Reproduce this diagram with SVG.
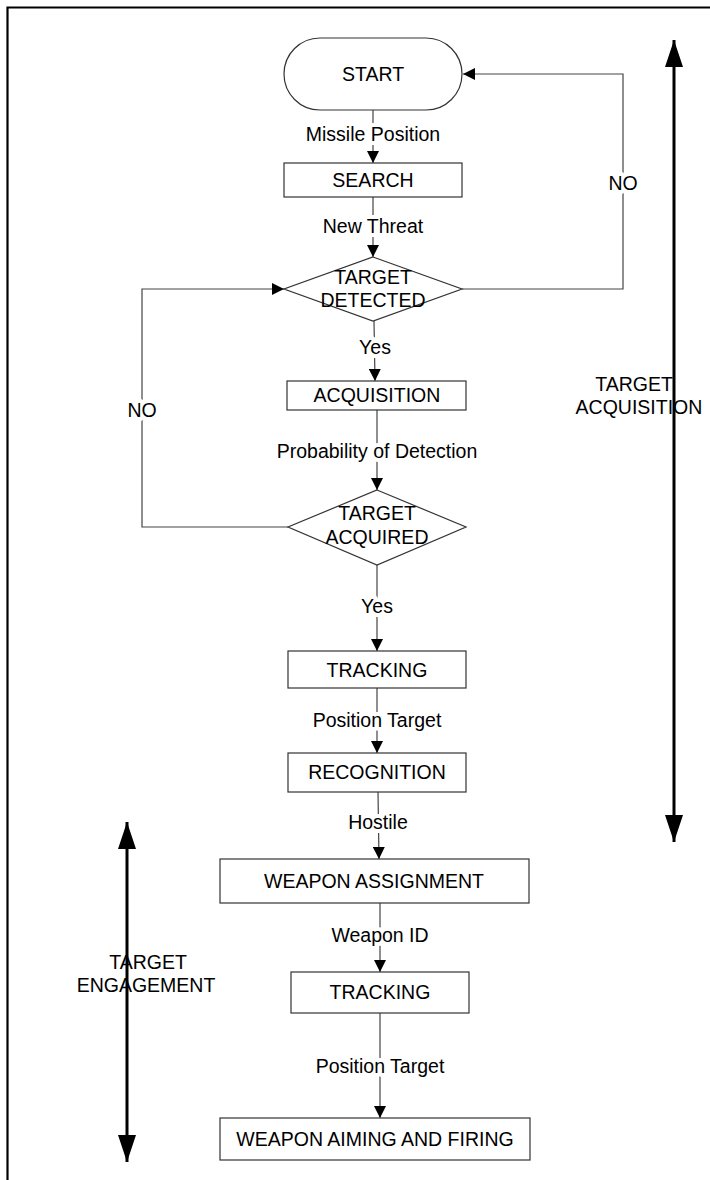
<svg xmlns="http://www.w3.org/2000/svg" width="710" height="1180" viewBox="0 0 710 1180">
  <style>
    text { font-family: "Liberation Sans", Arial, sans-serif; font-size: 19.5px; fill: #000; text-anchor: middle; dominant-baseline: central; }
    .shape { fill: #fff; stroke: #333; stroke-width: 1.2; }
    .conn { fill: none; stroke: #444; stroke-width: 1.2; }
    .lbl { stroke: #fff; stroke-width: 8; paint-order: stroke; stroke-linejoin: round; }
    .span { fill: none; stroke: #000; stroke-width: 3; }
    .frame { fill: none; stroke: #000; stroke-width: 2.2; }
  </style>
  <defs>
    <marker id="arr" viewBox="0 0 12 12" refX="12" refY="6" markerWidth="12" markerHeight="12" markerUnits="userSpaceOnUse" orient="auto">
      <path d="M0,0 L12,6 L0,12 Z" fill="#000"/>
    </marker>
    <marker id="big" viewBox="0 0 27 18" refX="27" refY="9" markerWidth="27" markerHeight="18" markerUnits="userSpaceOnUse" orient="auto-start-reverse">
      <path d="M0,0 L27,9 L0,18 Z" fill="#000"/>
    </marker>
  </defs>

  <rect width="710" height="1180" fill="#fff"/>
  <!-- page frame: top and left edges only -->
  <path class="frame" d="M7.5,1180 V7.5 H710"/>

  <!-- connectors -->
  <g id="connectors">
    <line class="conn" x1="373" y1="110" x2="373" y2="163" marker-end="url(#arr)"/>
    <line class="conn" x1="373" y1="197" x2="373" y2="257" marker-end="url(#arr)"/>
    <path class="conn" d="M462,289 H623 V74 H463" marker-end="url(#arr)"/>
    <line class="conn" x1="374" y1="321" x2="375" y2="381" marker-end="url(#arr)"/>
    <path class="conn" d="M288,527 H142 V289 H284" marker-end="url(#arr)"/>
    <line class="conn" x1="377" y1="410" x2="377" y2="490" marker-end="url(#arr)"/>
    <line class="conn" x1="377" y1="565" x2="377" y2="651" marker-end="url(#arr)"/>
    <line class="conn" x1="377" y1="688" x2="377" y2="753" marker-end="url(#arr)"/>
    <line class="conn" x1="378" y1="792" x2="379" y2="859" marker-end="url(#arr)"/>
    <line class="conn" x1="380" y1="903" x2="380" y2="972" marker-end="url(#arr)"/>
    <line class="conn" x1="380" y1="1013" x2="380" y2="1118" marker-end="url(#arr)"/>

    <text class="lbl" x="373" y="134">Missile Position</text>
    <text class="lbl" x="373" y="226">New Threat</text>
    <text class="lbl" x="623" y="183">NO</text>
    <text class="lbl" x="375" y="347">Yes</text>
    <text class="lbl" x="142" y="410">NO</text>
    <text class="lbl" x="377" y="451">Probability of Detection</text>
    <text class="lbl" x="377" y="606">Yes</text>
    <text class="lbl" x="377" y="720">Position Target</text>
    <text class="lbl" x="378" y="822">Hostile</text>
    <text class="lbl" x="380" y="935">Weapon ID</text>
    <text class="lbl" x="380" y="1066">Position Target</text>
  </g>

  <!-- nodes -->
  <g id="start">
    <rect class="shape" x="284" y="38" width="178" height="72" rx="36" ry="36"/>
    <text x="373" y="74">START</text>
  </g>
  <g id="search">
    <rect class="shape" x="284" y="163" width="178" height="34"/>
    <text x="373" y="180">SEARCH</text>
  </g>
  <g id="target-detected">
    <polygon class="shape" points="373,257 462,289 373,321 284,289"/>
    <text x="373" y="277">TARGET</text>
    <text x="373" y="300">DETECTED</text>
  </g>
  <g id="acquisition">
    <rect class="shape" x="287" y="381" width="179" height="29"/>
    <text x="377" y="395">ACQUISITION</text>
  </g>
  <g id="target-acquired">
    <polygon class="shape" points="377,490 466,527 377,565 288,527"/>
    <text x="377" y="513">TARGET</text>
    <text x="377" y="537">ACQUIRED</text>
  </g>
  <g id="tracking">
    <rect class="shape" x="288" y="651" width="178" height="37"/>
    <text x="377" y="670">TRACKING</text>
  </g>
  <g id="recognition">
    <rect class="shape" x="288" y="753" width="178" height="39"/>
    <text x="377" y="772">RECOGNITION</text>
  </g>
  <g id="weapon-assignment">
    <rect class="shape" x="220" y="859" width="309" height="44"/>
    <text x="374" y="881">WEAPON ASSIGNMENT</text>
  </g>
  <g id="tracking-2">
    <rect class="shape" x="291" y="972" width="178" height="41"/>
    <text x="380" y="992">TRACKING</text>
  </g>
  <g id="weapon-aiming">
    <rect class="shape" x="220" y="1118" width="310" height="42"/>
    <text x="375" y="1139">WEAPON AIMING AND FIRING</text>
  </g>

  <!-- phase spans -->
  <g id="phase-acquisition">
    <line class="span" x1="674" y1="40" x2="674" y2="842" marker-start="url(#big)" marker-end="url(#big)"/>
    <text x="634" y="384">TARGET</text>
    <text x="639" y="407">ACQUISITION</text>
  </g>
  <g id="phase-engagement">
    <line class="span" x1="127" y1="822" x2="127" y2="1162" marker-start="url(#big)" marker-end="url(#big)"/>
    <text x="148" y="962">TARGET</text>
    <text x="146" y="985">ENGAGEMENT</text>
  </g>
</svg>
